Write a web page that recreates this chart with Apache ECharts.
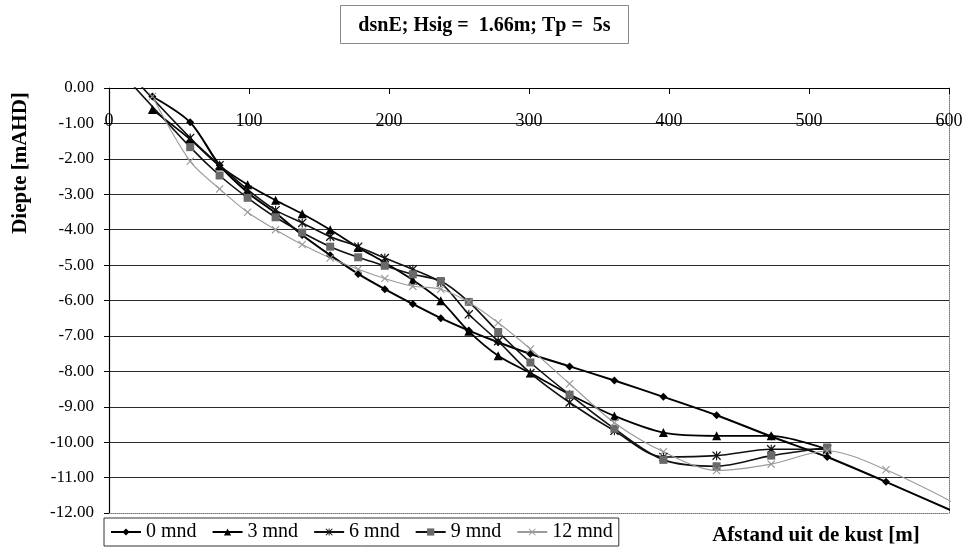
<!DOCTYPE html>
<html>
<head>
<meta charset="utf-8">
<script src="https://cdn.jsdelivr.net/npm/echarts@6/dist/echarts.min.js"></script>
<style>
html,body{margin:0;padding:0;background:#fff;}
#chart{width:972px;height:553px;}
</style>
</head>
<body>
<div id="chart"></div>
<script>
// ---- data (distance [m], depth [mAHD]) ----
const seriesNames = ['0 mnd', '3 mnd', '6 mnd', '9 mnd', '12 mnd'];
const xTicks = [0, 100, 200, 300, 400, 500, 600];
const yTicks = [0, -1, -2, -3, -4, -5, -6, -7, -8, -9, -10, -11, -12];

const mnd0 = [[31,-0.24],[58,-0.97],[79,-2.18],[99,-2.95],[119,-3.53],[138,-4.15],[158,-4.72],[178,-5.25],[197,-5.68],[217,-6.10],[237,-6.50],[257,-6.85],[278,-7.18],[301,-7.51],[329,-7.86],[361,-8.26],[396,-8.72],[434,-9.24],[473,-9.84],[513,-10.42],[555,-11.12],[620,-12.25]];
const mnd3 = [[31,-0.61],[58,-1.45],[79,-2.20],[99,-2.73],[119,-3.17],[138,-3.55],[158,-4.00],[178,-4.50],[197,-4.93],[217,-5.42],[237,-6.01],[257,-6.87],[278,-7.56],[301,-8.05],[329,-8.65],[361,-9.26],[396,-9.73],[434,-9.82],[473,-9.82],[513,-10.20]];
const mnd6 = [[10,0.60],[58,-1.41],[79,-2.18],[99,-2.87],[119,-3.45],[138,-3.81],[158,-4.20],[178,-4.48],[197,-4.80],[217,-5.12],[237,-5.50],[257,-6.39],[278,-7.15],[301,-8.05],[329,-8.88],[361,-9.68],[396,-10.42],[434,-10.38],[473,-10.20],[513,-10.20]];
const mnd9 = [[5,0.60],[58,-1.67],[79,-2.47],[99,-3.10],[119,-3.65],[138,-4.08],[158,-4.48],[178,-4.78],[197,-5.02],[217,-5.26],[237,-5.45],[257,-6.04],[278,-6.89],[301,-7.75],[329,-8.66],[361,-9.62],[396,-10.50],[434,-10.68],[473,-10.38],[513,-10.15]];
const mnd12 = [[31,-0.24],[58,-2.07],[79,-2.85],[99,-3.51],[119,-4.00],[138,-4.42],[158,-4.80],[178,-5.12],[197,-5.38],[217,-5.60],[237,-5.68],[257,-6.05],[278,-6.63],[301,-7.37],[329,-8.35],[361,-9.45],[396,-10.27],[434,-10.80],[473,-10.62],[513,-10.25],[555,-10.78],[620,-12.05]];

const titleText = 'dsnE; Hsig =  1.66m; Tp =  5s';
const xName = 'Afstand uit de kust [m]';
const yName = 'Diepte [mAHD]';

// ---- styling ----
const FONT = '"Liberation Serif", "DejaVu Serif", serif';
const asterisk = 'path://M1,0L5,4L9,0L10,1L6,5L10,9L9,10L5,6L1,10L0,9L4,5L0,1ZM4.4,0L5.6,0L5.6,10L4.4,10Z';
const cross = 'path://M1,0L5,4L9,0L10,1L6,5L10,9L9,10L5,6L1,10L0,9L4,5L0,1Z';

const chart = echarts.init(document.getElementById('chart'), null, {renderer: 'canvas'});

const splitColors = yTicks.slice().reverse().map((v, i) => i === 0 ? 'rgba(0,0,0,0)' : '#2a2a2a');

function mk(name, data, symbol, size, color, width, symColor) {
  return {
    name: name, type: 'line', data: data, smooth: 0.3, clip: true,
    symbol: symbol, symbolSize: size, showSymbol: true,
    lineStyle: {color: color, width: width},
    itemStyle: {color: symColor || color, borderColor: symColor || color, borderWidth: 0},
    emphasis: {disabled: true}, animation: false, z: 3
  };
}

chart.setOption({
  backgroundColor: '#fff',
  animation: false,
  grid: {left: 109, right: 23, top: 88, bottom: 40, containLabel: false},
  xAxis: [
    {
      type: 'value', min: xTicks[0], max: xTicks[xTicks.length - 1], interval: 100,
      position: 'top',
      axisLine: {show: true, onZero: false, lineStyle: {color: '#000', width: 1.2}},
      axisTick: {show: true, inside: true, length: 6, lineStyle: {color: '#000'}},
      axisLabel: {inside: true, margin: 24, color: '#000', fontFamily: FONT, fontSize: 18},
      splitLine: {show: false}
    },
    {
      type: 'value', min: xTicks[0], max: xTicks[xTicks.length - 1], interval: 100,
      position: 'bottom',
      axisLine: {show: true, onZero: false, lineStyle: {color: '#777', width: 1, type: 'dotted'}},
      axisTick: {show: false}, axisLabel: {show: false}, splitLine: {show: false}
    }
  ],
  yAxis: [
    {
      type: 'value', min: -12, max: 0, interval: 1,
      axisLine: {show: true, onZero: false, lineStyle: {color: '#000', width: 1.2}},
      axisTick: {show: true, length: 5, lineStyle: {color: '#000'}},
      axisLabel: {margin: 15, color: '#000', fontFamily: FONT, fontSize: 17,
        formatter: v => v.toFixed(2)},
      splitLine: {show: true, lineStyle: {color: splitColors, width: 1.2}}
    },
    {
      type: 'value', min: -12, max: 0, interval: 1, position: 'right',
      axisLine: {show: true, onZero: false, lineStyle: {color: '#777', width: 1, type: 'dotted'}},
      axisTick: {show: false}, axisLabel: {show: false}, splitLine: {show: false}
    }
  ],
  legend: {
    left: 104, top: 518, orient: 'horizontal',
    data: seriesNames,
    itemWidth: 30, itemHeight: 9, itemGap: 15,
    padding: [4, 6, 4, 6],
    borderColor: '#333', borderWidth: 1,
    textStyle: {fontFamily: FONT, fontSize: 20, color: '#000'},
    selectedMode: false
  },
  graphic: [
    {
      type: 'group', left: 340, top: 5,
      children: [
        {type: 'rect', shape: {x: 0, y: 0, width: 288, height: 38},
         style: {fill: '#fff', stroke: '#888', lineWidth: 1}},
        {type: 'text', x: 144, y: 20,
         style: {text: titleText, font: 'bold 20px ' + FONT, fill: '#000', textAlign: 'center', textVerticalAlign: 'middle'}}
      ]
    },
    {type: 'text', x: 21, y: 163, rotation: Math.PI / 2,
     style: {text: yName, font: 'bold 21px ' + FONT, fill: '#000', textAlign: 'center', textVerticalAlign: 'middle'}},
    {type: 'text', x: 816, y: 536,
     style: {text: xName, font: 'bold 21px ' + FONT, fill: '#000', textAlign: 'center', textVerticalAlign: 'middle'}}
  ],
  series: [
    mk(seriesNames[0], mnd0, 'diamond', 8, '#000', 2),
    mk(seriesNames[1], mnd3, 'triangle', 9, '#000', 1.8),
    mk(seriesNames[2], mnd6, asterisk, 9, '#111', 1.6),
    mk(seriesNames[3], mnd9, 'rect', 8, '#111', 1.6, '#6a6a6a'),
    mk(seriesNames[4], mnd12, cross, 8, '#9a9a9a', 1.1)
  ]
});
</script>
</body>
</html>
